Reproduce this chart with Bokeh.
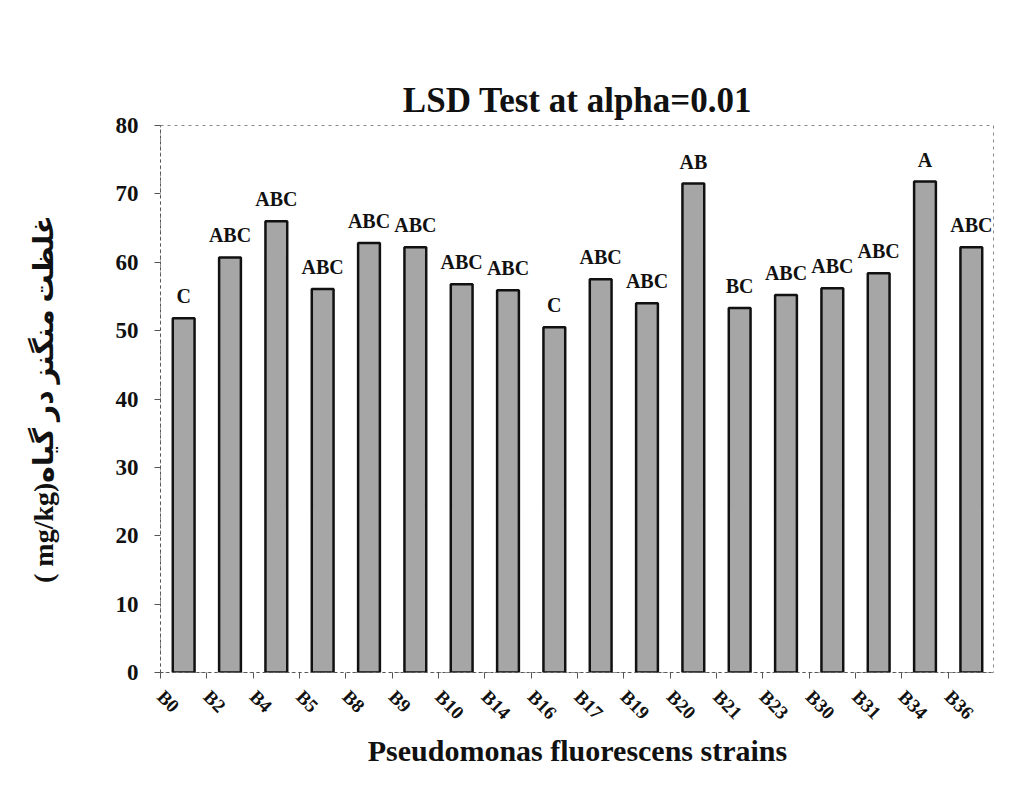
import numpy as np
from bokeh.plotting import figure
from bokeh.models import (ColumnDataSource, Range1d, FixedTicker, CustomJSTickFormatter, LabelSet)
from bokeh.embed import file_html
from bokeh.resources import INLINE

strains = ["B0", "B2", "B4", "B5", "B8", "B9", "B10", "B14", "B16", "B17",
           "B19", "B20", "B21", "B23", "B30", "B31", "B34", "B36"]
values = [51.8, 60.7, 66.0, 56.1, 62.8, 62.2, 56.8, 55.9, 50.5, 57.5,
          54.0, 71.5, 53.3, 55.2, 56.2, 58.4, 71.8, 62.2]
groups = ["C", "ABC", "ABC", "ABC", "ABC", "ABC", "ABC", "ABC", "C", "ABC",
          "ABC", "AB", "BC", "ABC", "ABC", "ABC", "A", "ABC"]
y_ticks = [0, 10, 20, 30, 40, 50, 60, 70, 80]

SERIF = "Liberation Serif"
xs = list(range(len(strains)))
src = ColumnDataSource(dict(x=xs, v=values, g=groups))

p = figure(width=994, height=769, output_backend="svg", toolbar_location=None,
           x_range=Range1d(-0.5, len(strains) - 0.5), y_range=Range1d(0, 80),
           min_border_left=160, min_border_right=0, min_border_top=125,
           min_border_bottom=96)

p.vbar(x="x", top="v", width=0.47, bottom=0, source=src,
       fill_color="#a6a6a6", line_color="#111111", line_width=2.5)

labels = LabelSet(x="x", y="v", text="g", source=src, y_offset=15,
                  text_align="center", text_baseline="alphabetic",
                  text_font=SERIF, text_font_style="bold", text_font_size="20px",
                  text_color="#111111")
p.add_layout(labels)

# title
p.title.text = "LSD Test at alpha=0.01"
p.title.text_font = SERIF
p.title.text_font_style = "bold"
p.title.text_font_size = "35px"
p.title.align = "center"
p.title.text_color = "#111111"
p.title.standoff = 12

# x axis: names placed at the left edge of each category slot
xa = p.xaxis[0]
xa.ticker = FixedTicker(ticks=[i - 0.5 for i in xs])
xa.formatter = CustomJSTickFormatter(args=dict(names=strains),
                                     code="return names[Math.round(tick + 0.5)] || '';")
xa.major_label_orientation = -np.pi / 4
xa.major_label_text_font = SERIF
xa.major_label_text_font_style = "bold"
xa.major_label_text_font_size = "19px"
xa.major_label_text_color = "#111111"
xa.major_label_standoff = 15
xa.major_tick_in = 0
xa.major_tick_out = 6
xa.major_tick_line_color = "#555555"
xa.minor_tick_line_color = None
xa.axis_line_color = "#555555"
xa.axis_line_dash = "3 3"
xa.axis_label = "Pseudomonas fluorescens strains"
xa.axis_label_text_font = SERIF
xa.axis_label_text_font_style = "bold"
xa.axis_label_text_font_size = "30px"
xa.axis_label_text_color = "#111111"
xa.axis_label_standoff = 0

# y axis
ya = p.yaxis[0]
ya.ticker = FixedTicker(ticks=y_ticks)
ya.major_label_text_font = SERIF
ya.major_label_text_font_style = "bold"
ya.major_label_text_font_size = "23px"
ya.major_label_text_color = "#111111"
ya.major_label_standoff = 16
ya.major_tick_in = 0
ya.major_tick_out = 6
ya.minor_tick_line_color = None
ya.major_tick_line_color = "#555555"
ya.axis_line_color = "#555555"
ya.axis_line_dash = "3 3"
ya.axis_label = "( mg/kg)غلظت منگنز در گیاه"
ya.axis_label_text_font = "Liberation Serif, DejaVu Sans"
ya.axis_label_text_font_style = "bold"
ya.axis_label_text_font_size = "28px"
ya.axis_label_text_color = "#111111"
ya.axis_label_standoff = 54

p.xgrid.grid_line_color = None
p.ygrid.grid_line_color = None
p.outline_line_color = "#888888"
p.outline_line_dash = "3 4"
p.background_fill_color = "white"
p.border_fill_color = "white"

open("out.html", "w").write(file_html(p, INLINE))
